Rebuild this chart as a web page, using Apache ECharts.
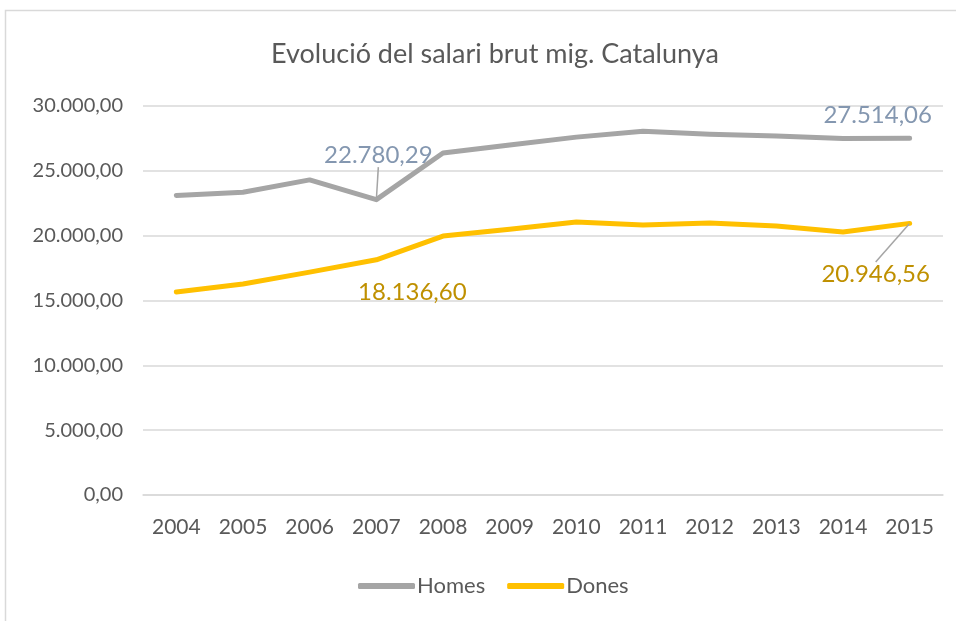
<!DOCTYPE html>
<html>
<head>
<meta charset="utf-8">
<script src="https://cdn.jsdelivr.net/npm/echarts@6/dist/echarts.min.js"></script>
<style>
  html, body { margin: 0; padding: 0; background: #fff; }
  #chart { width: 956px; height: 621px; }
</style>
</head>
<body>
<div id="chart"></div>
<script>
  var years = ['2004', '2005', '2006', '2007', '2008', '2009', '2010', '2011', '2012', '2013', '2014', '2015'];
  var homes = [23100, 23350, 24300, 22780.29, 26370, 27000, 27600, 28050, 27830, 27680, 27500, 27514.06];
  var dones = [15650, 16270, 17190, 18136.60, 19970, 20500, 21050, 20820, 20970, 20740, 20280, 20946.56];
  // labelled points: index -> leader line shown?
  var homesLabels = { 3: true, 11: false };
  var donesLabels = { 3: false, 11: true };

  function fmt(v) {
    var parts = Number(v).toFixed(2).split('.');
    return parts[0].replace(/\B(?=(\d{3})+(?!\d))/g, '.') + ',' + parts[1];
  }

  function withLabels(values, marks) {
    return values.map(function (v, i) {
      if (!(i in marks)) return v;
      return { value: v, label: { show: true }, labelLine: { show: marks[i] } };
    });
  }

  var font = 'Lato';
  var chart = echarts.init(document.getElementById('chart'));

  chart.setOption({
    backgroundColor: '#ffffff',
    animation: false,
    textStyle: { fontFamily: font },
    graphic: [{
      type: 'rect',
      shape: { x: 5.5, y: 10.5, width: 1000, height: 700 },
      style: { fill: 'none', stroke: '#d9d9d9', lineWidth: 1.5 }
    }],
    title: {
      text: 'Evolució del salari brut mig. Catalunya',
      left: 266,
      top: 36,
      textStyle: { fontFamily: font, fontWeight: 'normal', fontSize: 27, color: '#595959' }
    },
    legend: {
      bottom: 19,
      left: 353,
      icon: 'roundRect',
      itemWidth: 57,
      itemHeight: 6,
      itemGap: 22,
      textStyle: { fontFamily: font, fontSize: 22, color: '#595959', padding: [0, 0, 0, -3] },
      data: ['Homes', 'Dones']
    },
    grid: {
      top: 106,
      left: 143,
      right: 13,
      bottom: 126
    },
    xAxis: {
      type: 'category',
      data: years,
      axisTick: { show: false },
      axisLine: { lineStyle: { color: '#d9d9d9', width: 1.5 } },
      axisLabel: { fontFamily: font, fontSize: 21, color: '#595959', margin: 22 }
    },
    yAxis: {
      type: 'value',
      min: 0,
      max: 30000,
      interval: 5000,
      axisLine: { show: false },
      axisTick: { show: false },
      axisLabel: { fontFamily: font, fontSize: 20, color: '#595959', margin: 20, formatter: fmt },
      splitLine: { lineStyle: { color: '#d9d9d9', width: 1.5 } }
    },
    series: [{
      name: 'Homes',
      type: 'line',
      data: withLabels(homes, homesLabels),
      symbol: 'circle',
      symbolSize: 1,
      itemStyle: { color: '#a5a5a5' },
      lineStyle: { width: 5, color: '#a5a5a5', cap: 'round', join: 'round' },
      label: {
        position: 'top',
        fontFamily: font,
        fontSize: 24,
        color: '#8497b0',
        formatter: function (p) { return fmt(p.value); }
      },
      labelLine: { lineStyle: { color: '#a5a5a5', width: 1.5 } },
      labelLayout: function (p) {
        if (p.dataIndex === 3) return { dx: 2, dy: -27 };
        if (p.dataIndex === 11) return { dx: -32, dy: -5 };
        return {};
      }
    }, {
      name: 'Dones',
      type: 'line',
      data: withLabels(dones, donesLabels),
      symbol: 'circle',
      symbolSize: 1,
      itemStyle: { color: '#ffc000' },
      lineStyle: { width: 5, color: '#ffc000', cap: 'round', join: 'round' },
      label: {
        position: 'bottom',
        fontFamily: font,
        fontSize: 24,
        color: '#bf9000',
        formatter: function (p) { return fmt(p.value); }
      },
      labelLine: { lineStyle: { color: '#a5a5a5', width: 1.5 } },
      labelLayout: function (p) {
        if (p.dataIndex === 3) return { dx: 36, dy: 15 };
        if (p.dataIndex === 11) return { dx: -34, dy: 33 };
        return {};
      }
    }]
  });
</script>
</body>
</html>
